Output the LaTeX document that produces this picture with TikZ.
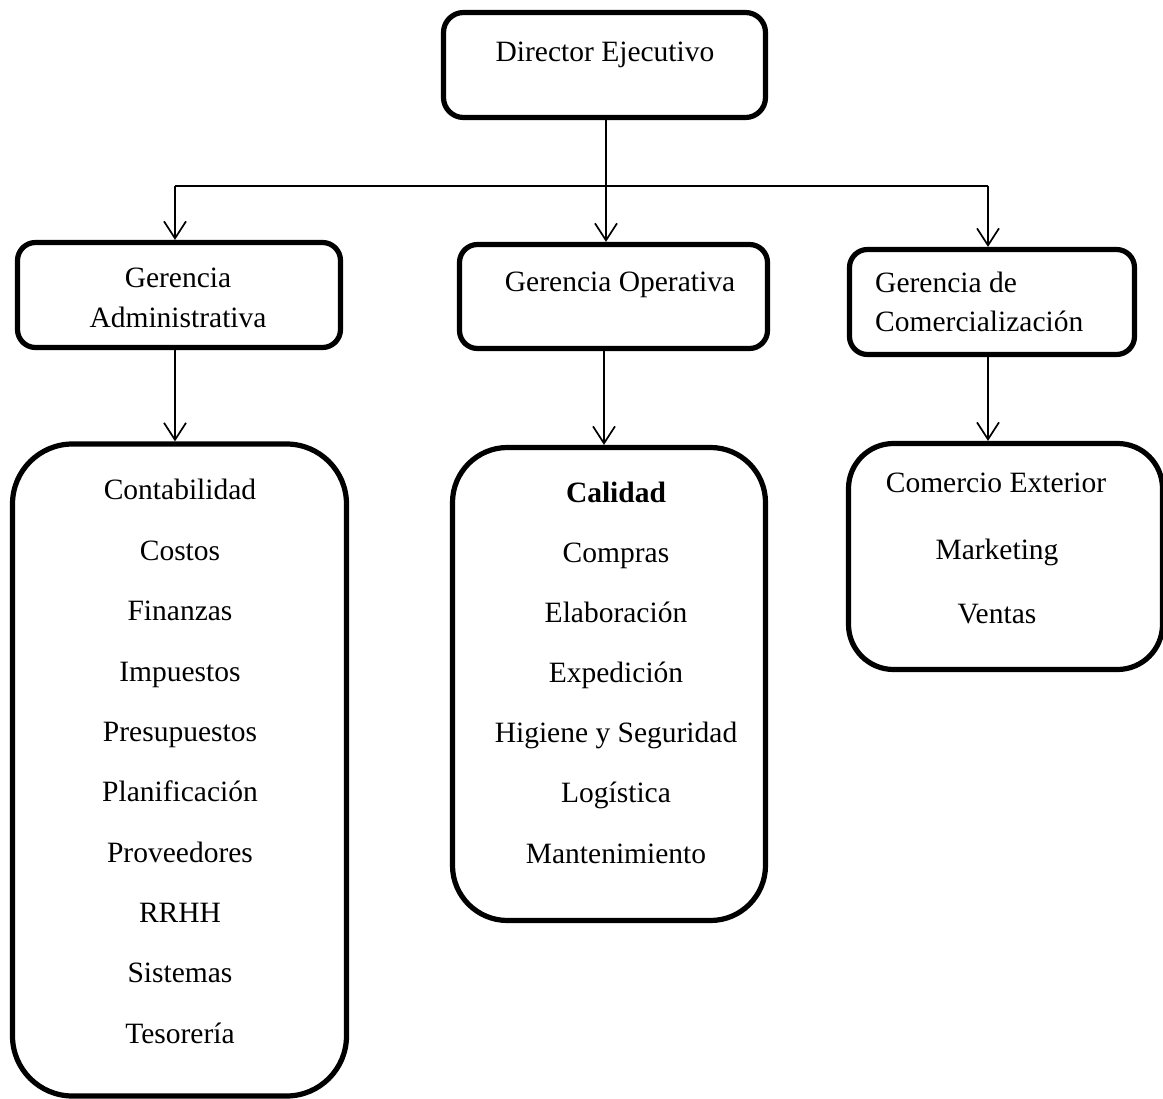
\documentclass[tikz,border=0pt]{standalone}
\usepackage{fontspec}
\setmainfont{Liberation Serif}
\usetikzlibrary{arrows.meta}
\begin{document}
\begin{tikzpicture}[x=1pt,y=-1pt,
  box/.style={draw,line width=5.2pt,rounded corners=#1,inner sep=0pt,anchor=center},
  box/.default=20pt,
  txt/.style={font=\fontsize{29.5}{35}\selectfont,inner sep=0pt,anchor=base},
  conn/.style={line width=1.7pt},
  arr/.style={conn,-{Straight Barb[length=17pt,width=22pt,line width=1.7pt]}}]
\useasboundingbox (0,0) rectangle (1163,1099);
% boxes
\node[box=20pt,minimum width=322pt,minimum height=105pt] (dir) at (604.5,65) {};
\node[box=18pt,minimum width=323pt,minimum height=105pt] (adm) at (179,295) {};
\node[box=18pt,minimum width=308pt,minimum height=104pt] (opr) at (613.5,296.5) {};
\node[box=18pt,minimum width=285pt,minimum height=105pt] (com) at (992,302) {};
\node[box=60pt,minimum width=334pt,minimum height=652pt] (admL) at (179.5,770) {};
\node[box=55pt,minimum width=313pt,minimum height=473pt] (oprL) at (609,684) {};
\node[box=45pt,minimum width=314pt,minimum height=226pt] (comL) at (1005.5,556.5) {};
% texts
\node[txt] (tdir) at (605,62) {Director Ejecutivo};
\node[txt] (tadm1) at (178,288) {Gerencia};
\node[txt] (tadm2) at (178,328) {Administrativa};
\node[txt] (topr) at (620,292) {Gerencia Operativa};
\node[txt,anchor=base west] (tcom1) at (875,293) {Gerencia de};
\node[txt,anchor=base west] (tcom2) at (875,332) {Comercialización};
% admin list
\node[txt] (a1) at (180,500) {Contabilidad};
\node[txt] (a2) at (180,560) {Costos};
\node[txt] (a3) at (180,620) {Finanzas};
\node[txt] (a4) at (180,681) {Impuestos};
\node[txt] (a5) at (180,741) {Presupuestos};
\node[txt] (a6) at (180,801) {Planificación};
\node[txt] (a7) at (180,862) {Proveedores};
\node[txt] (a8) at (180,922) {RRHH};
\node[txt] (a9) at (180,982) {Sistemas};
\node[txt] (a10) at (180,1043) {Tesorería};
% operativa list
\node[txt,font=\fontsize{29.5}{35}\selectfont\bfseries] (o1) at (616,502) {Calidad};
\node[txt] (o2) at (616,562) {Compras};
\node[txt] (o3) at (616,622) {Elaboración};
\node[txt] (o4) at (616,682) {Expedición};
\node[txt] (o5) at (616,742) {Higiene y Seguridad};
\node[txt] (o6) at (616,802) {Logística};
\node[txt] (o7) at (616,863) {Mantenimiento};
% comercial list
\node[txt] (c1) at (996,493) {Comercio Exterior};
\node[txt] (c2) at (997,559) {Marketing};
\node[txt] (c3) at (997,623) {Ventas};
% connectors
\coordinate (jl) at (175,186);
\coordinate (jr) at (988,186);
\draw[conn] (jl) -- (jr);
\draw[arr] (606,0 |- dir.south) -- (606,0 |- opr.north);
\draw[arr] (jl) -- (jl |- adm.north);
\draw[arr] (jr) -- (jr |- com.north);
\draw[arr] (175,0 |- adm.south) -- (175,0 |- admL.north);
\draw[arr] (604,0 |- opr.south) -- (604,0 |- oprL.north);
\draw[arr] (988,0 |- com.south) -- (988,0 |- comL.north);
\end{tikzpicture}
\end{document}
